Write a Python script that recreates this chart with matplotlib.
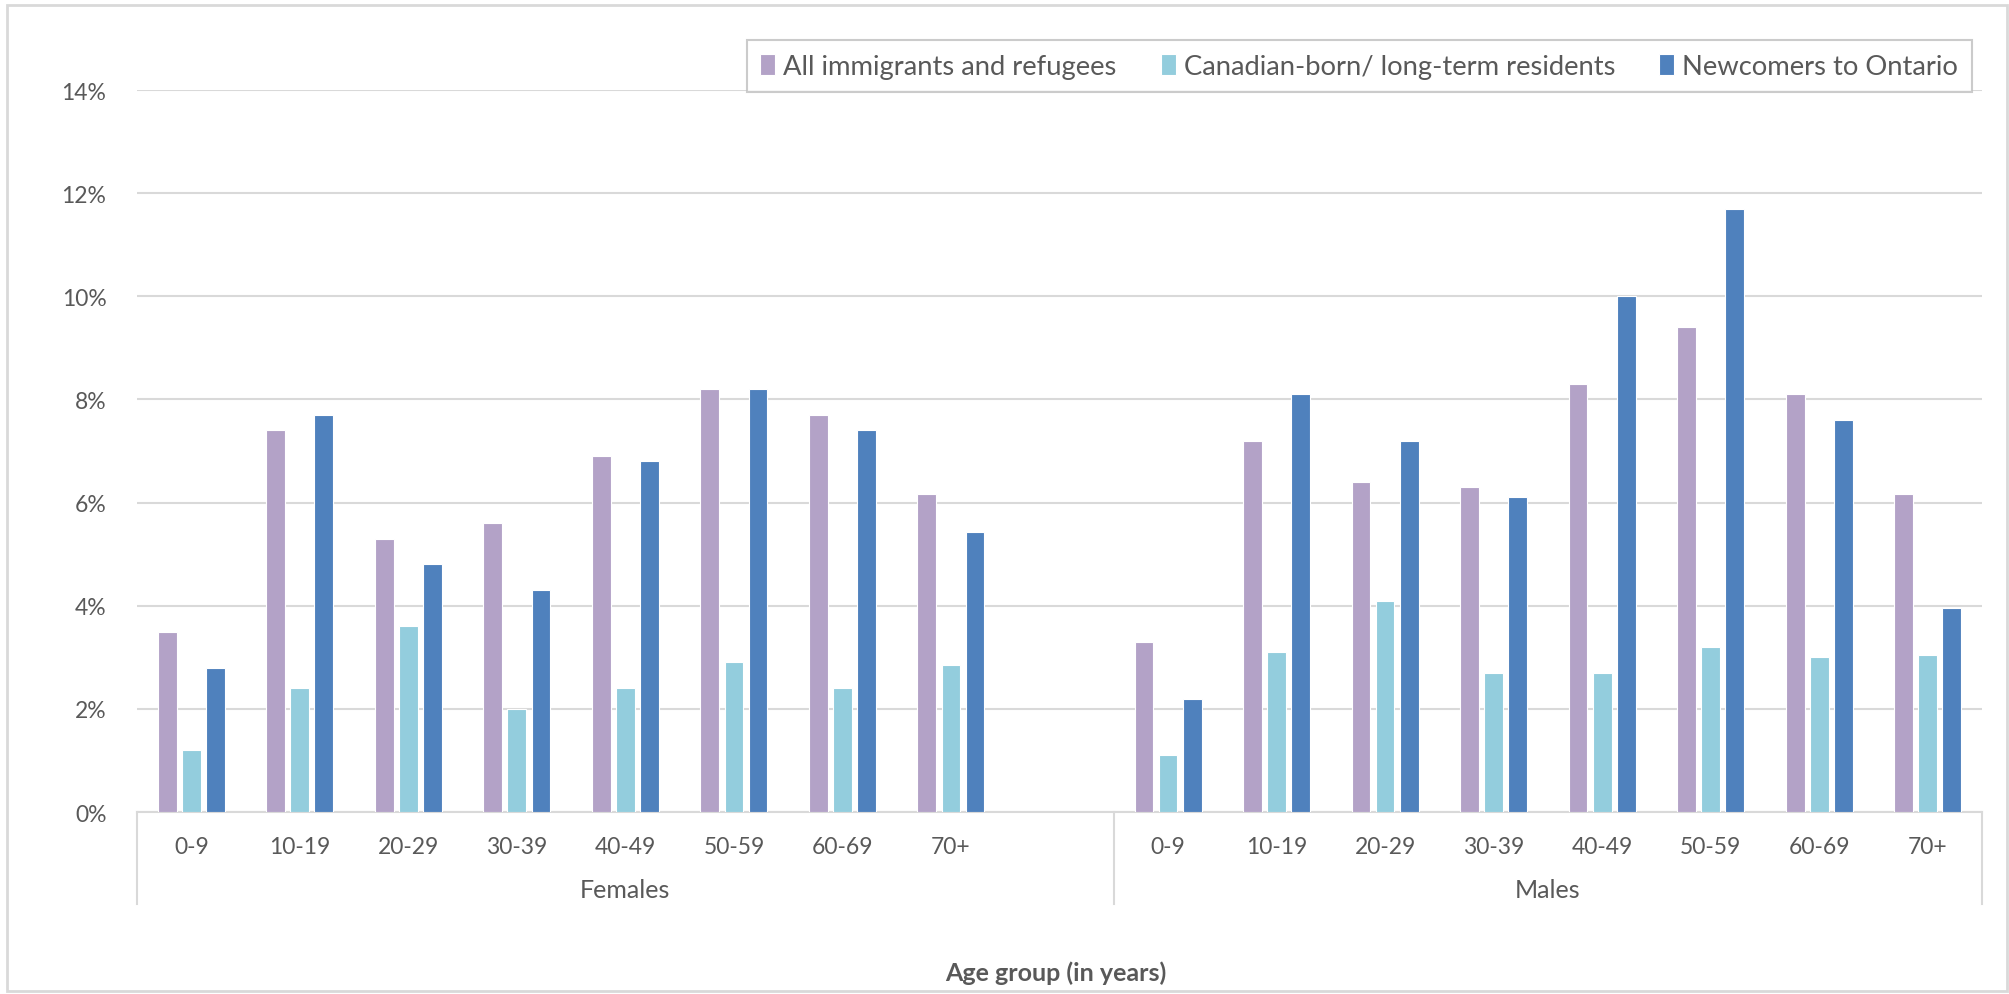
import matplotlib
matplotlib.use('Agg')
import matplotlib.pyplot as plt
from matplotlib.patches import Rectangle
from matplotlib.lines import Line2D
from matplotlib.ticker import FuncFormatter
import numpy as np

plt.rcParams['font.family'] = ['Lato', 'DejaVu Sans']

ages = ['0-9', '10-19', '20-29', '30-39', '40-49', '50-59', '60-69', '70+']
groups = ['Females', 'Males']
series = ['All immigrants and refugees', 'Canadian-born/ long-term residents', 'Newcomers to Ontario']
colors = ['#B3A2C7', '#93CDDD', '#4F81BD']

fem_all = [3.5, 7.4, 5.3, 5.6, 6.9, 8.2, 7.7, 6.17]
fem_can = [1.2, 2.4, 3.6, 2.0, 2.4, 2.9, 2.4, 2.85]
fem_new = [2.8, 7.7, 4.8, 4.3, 6.8, 8.2, 7.4, 5.42]
male_all = [3.3, 7.2, 6.4, 6.3, 8.3, 9.4, 8.1, 6.17]
male_can = [1.1, 3.1, 4.1, 2.7, 2.7, 3.2, 3.0, 3.05]
male_new = [2.2, 8.1, 7.2, 6.1, 10.0, 11.7, 7.6, 3.95]

# females take slots 0-7, slot 8 is an empty category, males 9-16
xf = np.arange(8)
xm = np.arange(9, 17)
x = np.concatenate([xf, xm])
vals = [np.array(fem_all + male_all), np.array(fem_can + male_can), np.array(fem_new + male_new)]

txt = '#595959'
grid = '#D9D9D9'

fig = plt.figure(figsize=(20.09, 9.95), dpi=100)
ax = fig.add_axes([137/2009, 1-813/995, (1982-137)/2009, (813-91)/995])

w = 0.173
off = 0.222
for i, (v, c, lab) in enumerate(zip(vals, colors, series)):
    ax.bar(x + (i-1)*off, v/100, width=w, color=c, edgecolor='white', linewidth=0.8, label=lab, zorder=3)

ax.set_xlim(-0.5, 16.5)
ax.set_ylim(0, 0.14)
ax.set_yticks(np.arange(0, 0.141, 0.02))
ax.yaxis.set_major_formatter(FuncFormatter(lambda v, p: '%d%%' % round(v*100)))
ax.grid(axis='y', color=grid, linewidth=1.5, zorder=0)
for s in ['top', 'right', 'left']:
    ax.spines[s].set_visible(False)
ax.spines['bottom'].set_color(grid)
ax.spines['bottom'].set_linewidth(1.5)
ax.tick_params(axis='y', length=0, pad=22, labelsize=16.5, labelcolor=txt)
ax.tick_params(axis='x', length=0, pad=17, labelsize=16.5, labelcolor=txt)
ax.set_xticks(x)
ax.set_xticklabels(ages + ages)

# group labels and separators below the axis
ax.text(4.0, -0.0151, groups[0], ha='center', va='center', fontsize=18, color=txt, clip_on=False)
ax.text(12.5, -0.0151, groups[1], ha='center', va='center', fontsize=18, color=txt, clip_on=False)
for sx in [-0.5, 8.5, 16.5]:
    ax.add_line(Line2D([sx, sx], [0, -0.0179], color=grid, linewidth=1.5, clip_on=False))

fig.text(1056/2009, 1-973/995, 'Age group (in years)', ha='center', va='center', fontsize=18, fontweight='bold', color=txt)

leg = fig.legend(loc='upper right', bbox_to_anchor=(1972/2009, 1-41/995), ncol=3, frameon=True, fancybox=False,
                 fontsize=19.7, handlelength=0.55, handleheight=0.8, handletextpad=0.3, columnspacing=1.6,
                 borderpad=0.5, borderaxespad=0, labelcolor=txt)
leg.get_frame().set_edgecolor('#BFBFBF')
leg.get_frame().set_linewidth(1.5)

fig.patches.append(Rectangle((7/2009, 3/995), 2000/2009, 986/995, transform=fig.transFigure,
                             fill=False, edgecolor=grid, linewidth=2))

fig.savefig('out.png', dpi=100)
